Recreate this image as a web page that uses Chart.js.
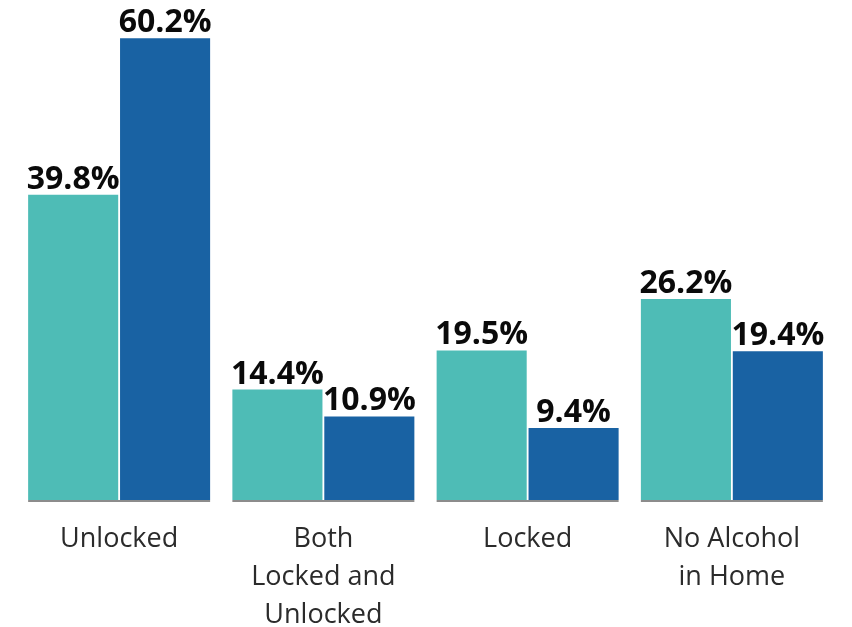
<!DOCTYPE html>
<html>
<head>
<meta charset="utf-8">
<script src="https://cdn.jsdelivr.net/npm/chart.js@4"></script>
<style>
  html, body { margin: 0; padding: 0; background: #ffffff; }
  #wrap { width: 852px; height: 627px; }
</style>
</head>
<body>
<div id="wrap"><canvas id="chart"></canvas></div>
<script>
const categories = [['Unlocked'], ['Both', 'Locked and', 'Unlocked'], ['Locked'], ['No Alcohol', 'in Home']];
const seriesTeal = [39.8, 14.4, 19.5, 26.2];
const seriesBlue = [60.2, 10.9, 9.4, 19.4];

const COLOR_TEAL = '#4ebcb6';
const COLOR_BLUE = '#1962a3';

// value labels above the bars + gray baseline under each pair
const barExtras = {
  id: 'barExtras',
  afterDatasetsDraw(chart) {
    const ctx = chart.ctx;
    const m0 = chart.getDatasetMeta(0);
    const m1 = chart.getDatasetMeta(1);
    const base = chart.scales.y.getPixelForValue(0);

    ctx.save();
    ctx.strokeStyle = '#8c8c8c';
    ctx.lineWidth = 2;
    m0.data.forEach((bar, i) => {
      const b2 = m1.data[i];
      ctx.beginPath();
      ctx.moveTo(bar.x - bar.width / 2, base + 1);
      ctx.lineTo(b2.x + b2.width / 2, base + 1);
      ctx.stroke();
    });

    ctx.fillStyle = '#0a0a0a';
    ctx.font = 'bold 32px "Open Sans", sans-serif';
    ctx.textAlign = 'center';
    ctx.textBaseline = 'alphabetic';
    [m0, m1].forEach((meta, d) => {
      meta.data.forEach((bar, i) => {
        const v = chart.data.datasets[d].data[i];
        ctx.fillText(v.toFixed(1) + '%', bar.x, bar.y - 6);
      });
    });
    ctx.restore();
  }
};

new Chart(document.getElementById('chart'), {
  type: 'bar',
  data: {
    labels: categories,
    datasets: [
      { data: seriesTeal, backgroundColor: COLOR_TEAL },
      { data: seriesBlue, backgroundColor: COLOR_BLUE }
    ]
  },
  options: {
    responsive: true,
    maintainAspectRatio: false,
    animation: false,
    datasets: { bar: { categoryPercentage: 0.9, barPercentage: 0.98 } },
    layout: { padding: { left: 17, right: 18, top: 0, bottom: 0 } },
    plugins: { legend: { display: false }, tooltip: { enabled: false } },
    scales: {
      x: {
        grid: { display: false, drawTicks: false },
        border: { display: false },
        ticks: {
          color: '#2b2b2b',
          font: { family: '"Open Sans", sans-serif', size: 27, lineHeight: 1.41 },
          padding: 20,
          maxRotation: 0,
          autoSkip: false
        },
        afterFit(scale) { scale.height = 127; }
      },
      y: {
        display: false,
        min: 0,
        max: 65.2
      }
    }
  },
  plugins: [barExtras]
});
</script>
</body>
</html>
